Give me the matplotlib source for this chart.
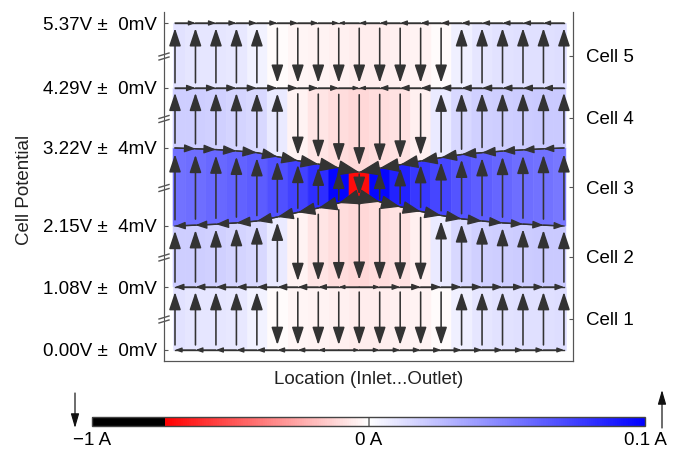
import numpy as np
import matplotlib
matplotlib.use('Agg')
import matplotlib.pyplot as plt
from matplotlib.colors import LinearSegmentedColormap, TwoSlopeNorm
from matplotlib.cm import ScalarMappable

plt.rcParams['font.family'] = ['Liberation Sans', 'DejaVu Sans']
plt.rcParams['font.size'] = 13.5
plt.rcParams['text.color'] = '#222222'

# plate potentials (V) and spread along each plate (mV), bottom plate first
potentials = [0.00, 1.08, 2.15, 3.22, 4.29, 5.37]
spread_mv = [0, 0, 4, 4, 0, 0]
cell_names = ['Cell 1', 'Cell 2', 'Cell 3', 'Cell 4', 'Cell 5']

# through-plane current of each cell in the 20 segments, inlet -> outlet (A)
cell1 = [0.011, 0.010, 0.010, 0.009, 0.005, -0.008, -0.025, -0.035, -0.045, -0.05,
         -0.05, -0.045, -0.035, -0.01, 0.006, 0.010, 0.011, 0.012, 0.012, 0.013]
cell2 = [0.019, 0.019, 0.018, 0.017, 0.015, 0.008, -0.035, -0.075, -0.10, -0.11,
         -0.10, -0.08, -0.045, 0.008, 0.015, 0.018, 0.019, 0.020, 0.021, 0.021]
cell3 = [0.055, 0.057, 0.059, 0.061, 0.064, 0.068, 0.074, 0.082, 0.098, -0.70,
         0.097, 0.086, 0.078, 0.072, 0.067, 0.063, 0.060, 0.057, 0.055, 0.053]
cell4 = [0.019, 0.019, 0.018, 0.017, 0.015, 0.008, -0.035, -0.075, -0.10, -0.11,
         -0.10, -0.08, -0.045, 0.008, 0.015, 0.018, 0.019, 0.020, 0.021, 0.021]
cell5 = [0.011, 0.010, 0.010, 0.009, 0.005, -0.008, -0.025, -0.035, -0.045, -0.05,
         -0.05, -0.045, -0.035, -0.01, 0.006, 0.010, 0.011, 0.012, 0.012, 0.013]
cells = [cell1, cell2, cell3, cell4, cell5]

# in-plane current along each plate between neighbouring segments (A), + = towards outlet
plate0 = [-0.02, -0.025, -0.025, -0.025, -0.025, -0.022, -0.018, -0.01, 0.004, 0.012,
          0.018, 0.022, 0.025, 0.025, 0.025, 0.025, 0.025, 0.025, 0.02]
plate1 = [-0.05, -0.06, -0.065, -0.065, -0.065, -0.06, -0.05, -0.035, -0.01, 0.01,
          0.035, 0.05, 0.06, 0.065, 0.065, 0.065, 0.06, 0.06, 0.05]
plate2 = [-0.08, -0.11, -0.15, -0.19, -0.23, -0.28, -0.34, -0.42, -0.55, 0.55,
          0.43, 0.36, 0.30, 0.25, 0.20, 0.16, 0.12, 0.09, 0.07]
plate3 = [0.10, 0.13, 0.16, 0.20, 0.24, 0.29, 0.35, 0.43, 0.55, -0.55,
          -0.44, -0.37, -0.31, -0.26, -0.21, -0.17, -0.13, -0.10, -0.08]
plate4 = [0.05, 0.06, 0.065, 0.065, 0.065, 0.06, 0.05, 0.035, 0.01, -0.01,
          -0.035, -0.05, -0.06, -0.065, -0.065, -0.065, -0.06, -0.06, -0.05]
plate5 = [0.02, 0.025, 0.025, 0.025, 0.025, 0.022, 0.018, 0.01, -0.005, -0.012,
          -0.018, -0.022, -0.025, -0.025, -0.025, -0.025, -0.025, -0.025, -0.02]
plates = [plate0, plate1, plate2, plate3, plate4, plate5]

# local deviation of the plate potential from its nominal value (mV)
flat = [0.0] * 20
shift2 = [0, 0.13, 0.28, 0.5, 0.8, 1.45, 2.2, 2.9, 3.7, 4.7,
          3.9, 3.1, 2.35, 1.7, 1.15, 0.8, 0.5, 0.3, 0.13, 0]
shift3 = [0, -0.12, -0.25, -0.47, -0.75, -1.4, -2.05, -2.6, -3.2, -3.9,
          -3.25, -2.7, -2.1, -1.55, -1.05, -0.75, -0.5, -0.3, -0.13, 0]
shifts = [flat, flat, shift2, shift3, flat, flat]

# layout (axes data units are pixels)
W, H = 680, 451
plate_y = [11, 74, 135, 213, 273, 338]
seg_w = 20.47
x_first = 11
mv_px = 6.2
ink = '#333333'
spine_c = '#555555'
PX = 72 / 100

xs = x_first + seg_w * np.arange(len(cell1))
node_y = [plate_y[k] + np.asarray(shifts[k]) * mv_px for k in range(len(plates))]

cmap = LinearSegmentedColormap.from_list(
    'current', [(0, 'black'), (0.132, 'black'), (0.132, '#ff0000'),
                (0.5, 'white'), (1, '#0000ff')])
norm = TwoSlopeNorm(vmin=-1, vcenter=0, vmax=0.1)

fig = plt.figure(figsize=(W / 100, H / 100), dpi=100)
ax = fig.add_axes([164 / W, 90 / H, 409 / W, 349 / H])
ax.set_xlim(0, 409)
ax.set_ylim(0, 349)


def arrow(x0, y0, x1, y1, hl, hw, lw=1.5, z=3):
    ax.annotate('', xy=(x1, y1), xytext=(x0, y0), zorder=z,
                arrowprops=dict(arrowstyle=f'-|>,head_length={hl},head_width={hw / 2}',
                                mutation_scale=PX, lw=lw * PX, color=ink,
                                shrinkA=0, shrinkB=0))


# coloured segments of every cell
n = len(xs)
for c, cur in enumerate(cells):
    yb, yt = node_y[c], node_y[c + 1]
    for i, v in enumerate(cur):
        xl = xs[i] - seg_w / 2 if i > 0 else xs[0] - 2
        xr = xs[i] + seg_w / 2 if i < n - 1 else xs[-1] + 2
        px = [xl, xs[i], xr, xr, xs[i], xl]
        py = [np.interp(xl, xs, yb), yb[i], np.interp(xr, xs, yb),
              np.interp(xr, xs, yt), yt[i], np.interp(xl, xs, yt)]
        col = cmap(norm(v))
        ax.fill(px, py, color=col, ec=col, lw=0.4, zorder=1)

# through-plane arrows
for c, cur in enumerate(cells):
    for i, v in enumerate(cur):
        h = node_y[c + 1][i] - node_y[c][i]
        gap = 0.08 * h
        lo = node_y[c][i] + gap
        hi = node_y[c + 1][i] - gap
        if v >= 0:
            arrow(xs[i], lo, xs[i], hi, 15, 10, lw=1.6)
        else:
            arrow(xs[i], hi, xs[i], lo, 15, 10, lw=1.6)

# in-plane arrows along each plate
for k, cur in enumerate(plates):
    ax.plot(xs, node_y[k], color=ink, lw=1.0, zorder=2)
    for i, v in enumerate(cur):
        w = 1.5 + 16.5 * np.sqrt(abs(v))
        L = min(1.35 * w, seg_w - 1.5)
        a = (xs[i], node_y[k][i])
        b = (xs[i + 1], node_y[k][i + 1])
        if v < 0:
            a, b = b, a
        arrow(a[0], a[1], b[0], b[1], L, w, lw=1.3, z=4)

# axes, ticks and labels
ax.spines['top'].set_visible(False)
for s in ('left', 'right', 'bottom'):
    ax.spines[s].set_color(spine_c)
ax.set_xticks([])
ax.set_yticks(plate_y, [f'{p:.2f}V ± {s:2d}mV' for p, s in zip(potentials, spread_mv)])
ax.tick_params(axis='y', direction='in', length=3, pad=5, color=spine_c)

mids = [(plate_y[k] + plate_y[k + 1]) / 2 for k in range(len(cells))]
ax2 = ax.twinx()
ax2.set_ylim(0, 349)
ax2.set_yticks(mids, cell_names)
ax2.tick_params(axis='y', direction='in', length=3, pad=9, color=spine_c)
ax2.spines['top'].set_visible(False)
for s in ('left', 'right', 'bottom'):
    ax2.spines[s].set_color(spine_c)

# axis break marks on the potential axis
for ym in mids:
    ax.plot([0, 0], [ym - 3, ym + 2], color='white', lw=2.5, clip_on=False, zorder=5)
    ax.plot([-5, 5], [ym - 4.5, ym - 1.5], color=spine_c, lw=1, clip_on=False, zorder=6)
    ax.plot([-5, 5], [ym - 0.5, ym + 2.5], color=spine_c, lw=1, clip_on=False, zorder=6)

fig.text(368.5 / W, 1 - 380 / H, 'Location (Inlet...Outlet)', ha='center', va='center')
fig.text(25 / W, 1 - 190 / H, 'Cell Potential', rotation=90, ha='center', va='center')

# colour scale
cax = fig.add_axes([92 / W, 25 / H, 553 / W, 9 / H])
cb = fig.colorbar(ScalarMappable(norm=norm, cmap=cmap), cax=cax, orientation='horizontal')
cb.set_ticks([-1, 0, 0.1], labels=['\u22121 A', '0 A', '0.1 A'])
cax.minorticks_off()
cax.tick_params(length=0, pad=4)
cb.outline.set_edgecolor('#444444')
cb.outline.set_linewidth(1)
cax.axvline(0, color='#777777', lw=1.2)

for x0, y0, y1 in [(75, 58, 23), (662, 23, 61)]:
    ax.annotate('', xy=(x0, y1), xytext=(x0, y0), xycoords='figure pixels',
                annotation_clip=False,
                arrowprops=dict(arrowstyle='-|>,head_length=12,head_width=3.5',
                                mutation_scale=PX, lw=1.2 * PX, color='#111111',
                                shrinkA=0, shrinkB=0))

fig.savefig('out.png', dpi=100)
